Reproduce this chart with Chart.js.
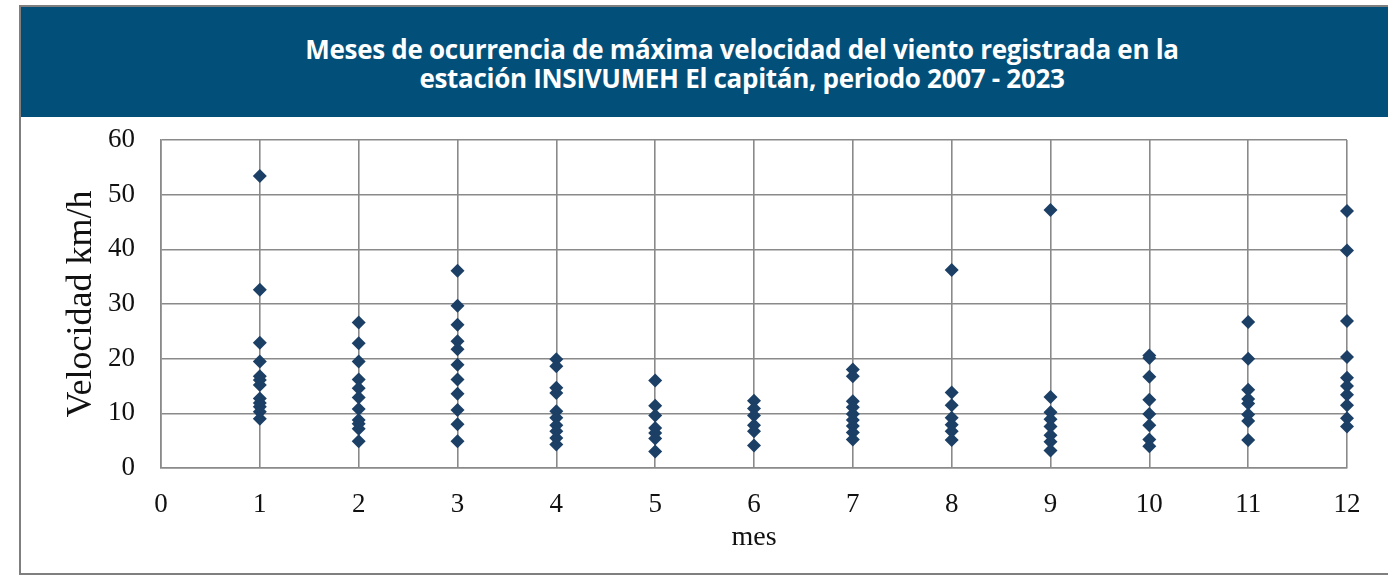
<!DOCTYPE html>
<html>
<head>
<meta charset="utf-8">
<script src="https://cdn.jsdelivr.net/npm/chart.js@4/dist/chart.umd.min.js"></script>
<style>
  html, body { margin: 0; padding: 0; background: #ffffff; width: 1388px; height: 578px; overflow: hidden; }
  #frame { position: absolute; left: 19px; top: 5px; width: 1400px; height: 570px; border: 2px solid #7f7f7f; box-sizing: border-box; }
  #banner { position: absolute; left: 21px; top: 7px; width: 1400px; height: 110px; background: #02507a; }
  #title { position: absolute; left: 21px; top: 35px; width: 1442px; text-align: center; color: #ffffff;
           font-family: "Open Sans", sans-serif; font-weight: 700; font-size: 26px; line-height: 29px; letter-spacing: -0.3px; }
  #c { position: absolute; left: 0; top: 0; }
</style>
</head>
<body>
<div id="frame"></div>
<div id="banner"></div>
<div id="title">Meses de ocurrencia de máxima velocidad del viento registrada en la<br>estación INSIVUMEH El capitán, periodo 2007 - 2023</div>
<canvas id="c" width="1388" height="578"></canvas>
<script>
// Month numbers (x) and the recorded maximum wind speeds (km/h) read for each month
const months = [1, 2, 3, 4, 5, 6, 7, 8, 9, 10, 11, 12];
const speedsJan = [53.4, 32.6, 22.9, 19.5, 16.8, 16.1, 15.2, 12.7, 11.9, 11.2, 10.3, 9.0];
const speedsFeb = [26.6, 22.8, 19.5, 16.2, 14.6, 12.9, 10.8, 8.8, 8.1, 7.2, 4.9];
const speedsMar = [36.1, 29.7, 26.2, 23.2, 21.7, 18.9, 16.2, 13.6, 10.6, 8.0, 4.9];
const speedsApr = [19.9, 18.6, 14.7, 13.7, 10.4, 9.2, 7.8, 6.7, 5.5, 4.3];
const speedsMay = [16.0, 11.4, 9.6, 7.3, 6.4, 5.4, 3.0];
const speedsJun = [12.3, 10.9, 9.6, 7.8, 6.7, 4.1];
const speedsJul = [18.0, 16.8, 12.2, 11.1, 9.9, 8.8, 7.7, 6.5, 5.2];
const speedsAug = [36.2, 13.8, 11.5, 9.2, 7.9, 6.7, 5.1];
const speedsSep = [47.2, 13.0, 10.2, 8.9, 7.6, 6.0, 4.8, 3.2];
const speedsOct = [20.6, 20.1, 16.7, 12.5, 9.9, 7.8, 5.2, 4.0];
const speedsNov = [26.7, 20.0, 14.3, 12.6, 11.8, 9.8, 8.6, 5.1];
const speedsDec = [47.0, 39.8, 26.9, 20.3, 16.5, 15.0, 13.4, 11.5, 9.1, 7.6];
const xTickLabels = ["0","1","2","3","4","5","6","7","8","9","10","11","12"];
const yTickLabels = ["0","10","20","30","40","50","60"];
const xTitle = "mes";
const yTitle = "Velocidad km/h";

const speedsByMonth = [speedsJan, speedsFeb, speedsMar, speedsApr, speedsMay, speedsJun,
                       speedsJul, speedsAug, speedsSep, speedsOct, speedsNov, speedsDec];
const points = [];
months.forEach((m, i) => speedsByMonth[i].forEach(v => points.push({x: m, y: v})));

const serif = "'Liberation Serif', 'Times New Roman', serif";
const gridColor = '#8a8a8a';

new Chart(document.getElementById('c'), {
  type: 'scatter',
  data: {
    datasets: [{
      data: points,
      clip: false,
      pointStyle: 'rectRot',
      pointRadius: 7,
      pointHoverRadius: 7,
      backgroundColor: '#1c3f66',
      borderColor: '#1c3f66',
      borderWidth: 0
    }]
  },
  options: {
    responsive: false,
    animation: false,
    layout: { padding: { left: 0, right: 41, top: 140, bottom: 0 } },
    plugins: { legend: { display: false }, title: { display: false }, tooltip: { enabled: false } },
    scales: {
      x: {
        type: 'linear', min: 0, max: 12,
        afterFit: s => { s.height = 110; },
        afterBuildTicks: s => { s.ticks = xTickLabels.map(t => ({ value: Number(t) })); },
        ticks: { stepSize: 1, padding: 21, color: '#111', font: { family: serif, size: 27 },
                 callback: (v) => xTickLabels[v] },
        grid: { color: gridColor, lineWidth: 1.6, drawTicks: false },
        border: { display: true, color: gridColor, width: 1.6 },
        title: { display: true, text: xTitle, color: '#111', font: { family: serif, size: 28 }, padding: { top: 0, bottom: 24 } }
      },
      y: {
        type: 'linear', min: 0, max: 60,
        afterFit: s => { s.width = 161; },
        afterBuildTicks: s => { s.ticks = yTickLabels.map(t => ({ value: Number(t) })); },
        ticks: { stepSize: 10, padding: 26, color: '#111', font: { family: serif, size: 27 },
                 callback: (v) => String(v) },
        grid: { color: gridColor, lineWidth: 1.6, drawTicks: false },
        border: { display: true, color: gridColor, width: 1.6 },
        title: { display: true, text: yTitle, color: '#111', font: { family: serif, size: 36 }, padding: { top: 60, bottom: 0 } }
      }
    }
  }
});
</script>
</body>
</html>
